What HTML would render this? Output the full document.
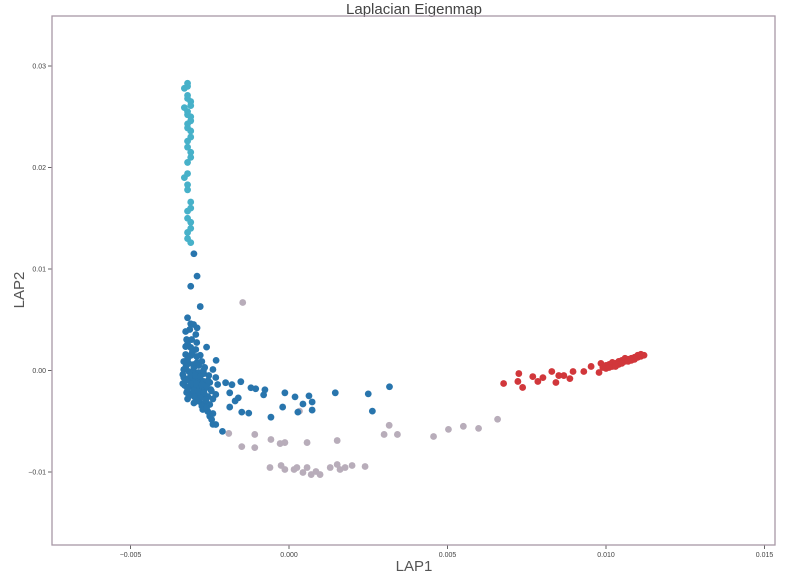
<!DOCTYPE html>
<html><head><meta charset="utf-8"><style>
html,body{margin:0;padding:0;background:#fff;}
svg{display:block;font-family:"Liberation Sans",sans-serif;}
</style></head><body>
<svg id="chart" width="786" height="578">
<text x="414" y="14" text-anchor="middle" font-size="15" fill="#444">Laplacian Eigenmap</text>
<g id="ticks"></g>
<g id="marks"></g>
<rect x="52" y="16" width="723" height="529" fill="none" stroke="#a898a6" stroke-width="1.3"/>
<text x="414" y="571" text-anchor="middle" font-size="15" fill="#555">LAP1</text>
<text transform="translate(24,290) rotate(-90)" text-anchor="middle" font-size="15" fill="#555">LAP2</text>
</svg>
<script>
const xTicks=[-0.005,0,0.005,0.010,0.015];
const xTickLabels=["\u22120.005","0.000","0.005","0.010","0.015"];
const yTicks=[0.03,0.02,0.01,0,-0.01];
const yTickLabels=["0.03","0.02","0.01","0.00","\u22120.01"];
const cyanPts=[[-0.0032,0.0283],[-0.0033,0.0278],[-0.0032,0.0271],[-0.0031,0.0265],[-0.0033,0.0259],[-0.0032,0.0255],[-0.0031,0.0250],[-0.0032,0.0243],[-0.0031,0.0236],[-0.0032,0.0226],[-0.0031,0.0215],[-0.0032,0.0205],[-0.0033,0.0190],[-0.0032,0.0178],[-0.0031,0.0166],[-0.0032,0.0157],[-0.0031,0.0146],[-0.0032,0.0136],[-0.0031,0.0126],
[-0.0032,0.0280],[-0.0032,0.0268],[-0.0031,0.0261],[-0.0032,0.0252],[-0.0031,0.0246],[-0.0032,0.0239],[-0.0031,0.0230],[-0.0032,0.0220],[-0.0031,0.0210],[-0.0032,0.0194],[-0.0032,0.0183],[-0.0031,0.0160],[-0.0032,0.0150],[-0.0031,0.0140],[-0.0032,0.0130]];
const bluePts=[[-0.0030,0.0115],[-0.0029,0.0093],[-0.0031,0.0083],[-0.0028,0.0063],[-0.0032,0.0052],[-0.0031,0.0046],[-0.0029,0.0042],[-0.0026,0.0023],[-0.0023,0.0010],
[-0.00323,0.00305],[-0.00307,0.00305],[-0.00291,0.00276],[-0.00326,0.00236],[-0.0031,0.00227],[-0.00294,0.00207],[-0.00326,0.00158],[-0.0031,0.00148],[-0.00291,0.00138],[-0.00275,0.00089],[-0.00332,0.00089],[-0.00316,0.00069],[-0.00301,0.00059],[-0.00285,0.00049],[-0.00266,0.0003],[-0.00332,0.0001],[-0.00316,-0.0001],[-0.00301,-0.0001],[-0.00285,-0.0002],[-0.00269,-0.0003],[-0.00253,-0.00049],[-0.00332,-0.00069],[-0.00316,-0.00079],[-0.00301,-0.00089],[-0.00285,-0.00099],[-0.00269,-0.00108],[-0.0025,-0.00118],[-0.00329,-0.00148],[-0.00313,-0.00158],[-0.00297,-0.00167],[-0.00282,-0.00177],[-0.00266,-0.00177],[-0.00247,-0.00187],[-0.00323,-0.00217],[-0.00307,-0.00227],[-0.00291,-0.00236],[-0.00272,-0.00246],[-0.00256,-0.00256],[-0.00282,-0.00305],[-0.00266,-0.00325],[-0.0025,-0.00335],[-0.00272,-0.00384],[-0.00256,-0.00404],[-0.0024,-0.00424],[-0.00244,-0.00483],[-0.00231,-0.00532],[-0.00294,0.00355],[-0.00313,0.00404],[-0.00301,0.00453],[-0.00326,0.00384],[-0.0024,0.0001],[-0.00231,-0.00069],[-0.00225,-0.00138],[-0.00231,-0.00236],[-0.00335,-0.0004],[-0.00335,-0.0013],[-0.00320,-0.0028],[-0.00300,-0.0032],[-0.00280,0.0015],[-0.00260,-0.0015],[-0.00240,-0.0028],
[-0.00320,0.0026],[-0.00305,0.0018],[-0.00320,0.0011],[-0.00300,0.0003],[-0.00325,0.0004],[-0.00310,-0.0005],[-0.00295,-0.0005],[-0.00280,-0.0006],[-0.00325,-0.0010],[-0.00308,-0.0013],[-0.00292,-0.0013],[-0.00275,-0.0014],[-0.00320,-0.0018],[-0.00300,-0.0020],[-0.00285,-0.0021],[-0.00268,-0.0022],[-0.00315,-0.0025],[-0.00298,-0.0026],[-0.00280,-0.0027],[-0.00262,-0.0029],[-0.00290,-0.0030],[-0.00275,-0.0035],[-0.00260,-0.0037],[-0.00250,-0.0045],[-0.00290,0.0008],[-0.00270,0.0000],[-0.00255,-0.0010],[-0.00245,-0.0020],
[-0.00152,-0.0011],[-0.0012,-0.0017],[-0.00076,-0.0019],[-0.00013,-0.0022],[0.00019,-0.0026],[0.00063,-0.0025],[0.00073,-0.0031],[0.00146,-0.0022],[0.0025,-0.0023],[0.00317,-0.0016],[0.00263,-0.0040],[-0.00057,-0.0046],[-0.0002,-0.0036],[0.00028,-0.0041],[0.00073,-0.0039],[0.00044,-0.0033],[-0.00127,-0.0042],[-0.00149,-0.0041],[-0.00187,-0.0036],[-0.0017,-0.0030],[-0.00187,-0.0022],[-0.0021,-0.0060],[-0.0024,-0.0053],[-0.0020,-0.0012],[-0.0018,-0.0014],[-0.00105,-0.0018],[-0.0008,-0.0024],[-0.0016,-0.0027]];
const grayPts=[[-0.00146,0.0067],[-0.0019,-0.0062],[-0.00108,-0.0063],[-0.00149,-0.0075],[-0.00108,-0.0076],[-0.00057,-0.0068],[-0.00028,-0.0072],[-0.00013,-0.0071],[0.00057,-0.0071],[0.00152,-0.0069],[0.00316,-0.0054],[0.0030,-0.0063],[0.00342,-0.0063],[0.00033,-0.0040],
[-0.0006,-0.00956],[-0.00025,-0.00936],[-0.00013,-0.00975],[0.00016,-0.00975],[0.00025,-0.00956],[0.00044,-0.01005],[0.00057,-0.00956],[0.0007,-0.01025],[0.00085,-0.00995],[0.00098,-0.01025],[0.0013,-0.00956],[0.00152,-0.00926],[0.00161,-0.00975],[0.00177,-0.00956],[0.00199,-0.00936],[0.0024,-0.00946],
[0.00456,-0.0065],[0.00503,-0.0058],[0.0055,-0.0055],[0.00598,-0.0057],[0.00658,-0.0048]];
const redPts=[[0.00677,-0.00128],[0.00725,-0.0003],[0.00722,-0.00108],[0.00737,-0.00167],[0.00769,-0.0006],[0.00785,-0.00108],[0.00801,-0.0007],[0.00829,-0.0001],[0.00842,-0.00118],[0.00851,-0.0005],[0.00867,-0.0005],[0.00886,-0.0008],[0.00896,-0.0001],[0.0093,-0.0001],[0.00953,0.0004],[0.00978,-0.0002],[0.00984,0.0007],
[0.0099,0.0003],[0.0100,0.0005],[0.0101,0.0006],[0.0102,0.0004],[0.0102,0.0008],[0.0103,0.0007],[0.0104,0.0009],[0.0104,0.0006],[0.0105,0.0010],[0.0106,0.0009],[0.0106,0.0012],[0.0107,0.0011],[0.0108,0.0012],[0.0109,0.0013],[0.0110,0.0013],[0.0110,0.0015],[0.0111,0.0014],[0.0112,0.0015],[0.0100,0.0002],[0.0101,0.0003],[0.0103,0.0004],[0.0105,0.0007],[0.0107,0.0009],[0.0109,0.0011],[0.0108,0.0010],[0.0111,0.0016]];

const NS='http://www.w3.org/2000/svg';
function sx(v){return 289+v*31700;}
function sy(v){return 370.5-v*10150;}
const tk=document.getElementById('ticks');
xTicks.forEach((t,i)=>{
  const l=document.createElementNS(NS,'line');
  l.setAttribute('x1',sx(t));l.setAttribute('x2',sx(t));l.setAttribute('y1',545);l.setAttribute('y2',549);l.setAttribute('stroke','#666');
  
  
  tk.appendChild(l);
  const tx=document.createElementNS(NS,'text');
  tx.setAttribute('x',sx(t));tx.setAttribute('y',557);tx.setAttribute('text-anchor','middle');tx.setAttribute('font-size','7');tx.setAttribute('fill','#444');
  tx.textContent=xTickLabels[i];
  
  
  tk.appendChild(tx);
});
yTicks.forEach((t,i)=>{
  const l=document.createElementNS(NS,'line');
  l.setAttribute('x1',48);l.setAttribute('x2',52);l.setAttribute('y1',sy(t));l.setAttribute('y2',sy(t));l.setAttribute('stroke','#666');
  
  
  tk.appendChild(l);
  const tx=document.createElementNS(NS,'text');
  tx.setAttribute('x',46);tx.setAttribute('y',sy(t)+2.5);tx.setAttribute('text-anchor','end');tx.setAttribute('font-size','7');tx.setAttribute('fill','#444');
  tx.textContent=yTickLabels[i];
  
  
  tk.appendChild(tx);
});
const mk=document.getElementById('marks');
function draw(pts,color,name){
  pts.forEach(p=>{
    const c=document.createElementNS(NS,'circle');
    c.setAttribute('cx',sx(p[0]));c.setAttribute('cy',sy(p[1]));c.setAttribute('r',3.4);c.setAttribute('fill',color);
    
    
    mk.appendChild(c);
  });
}
draw(grayPts,'#b8adba','point-gray');
draw(redPts,'#d1373b','point-red');
draw(cyanPts,'#47b1c9','point-cyan');
draw(bluePts,'#2875ad','point-blue');
</script>
</body></html>
